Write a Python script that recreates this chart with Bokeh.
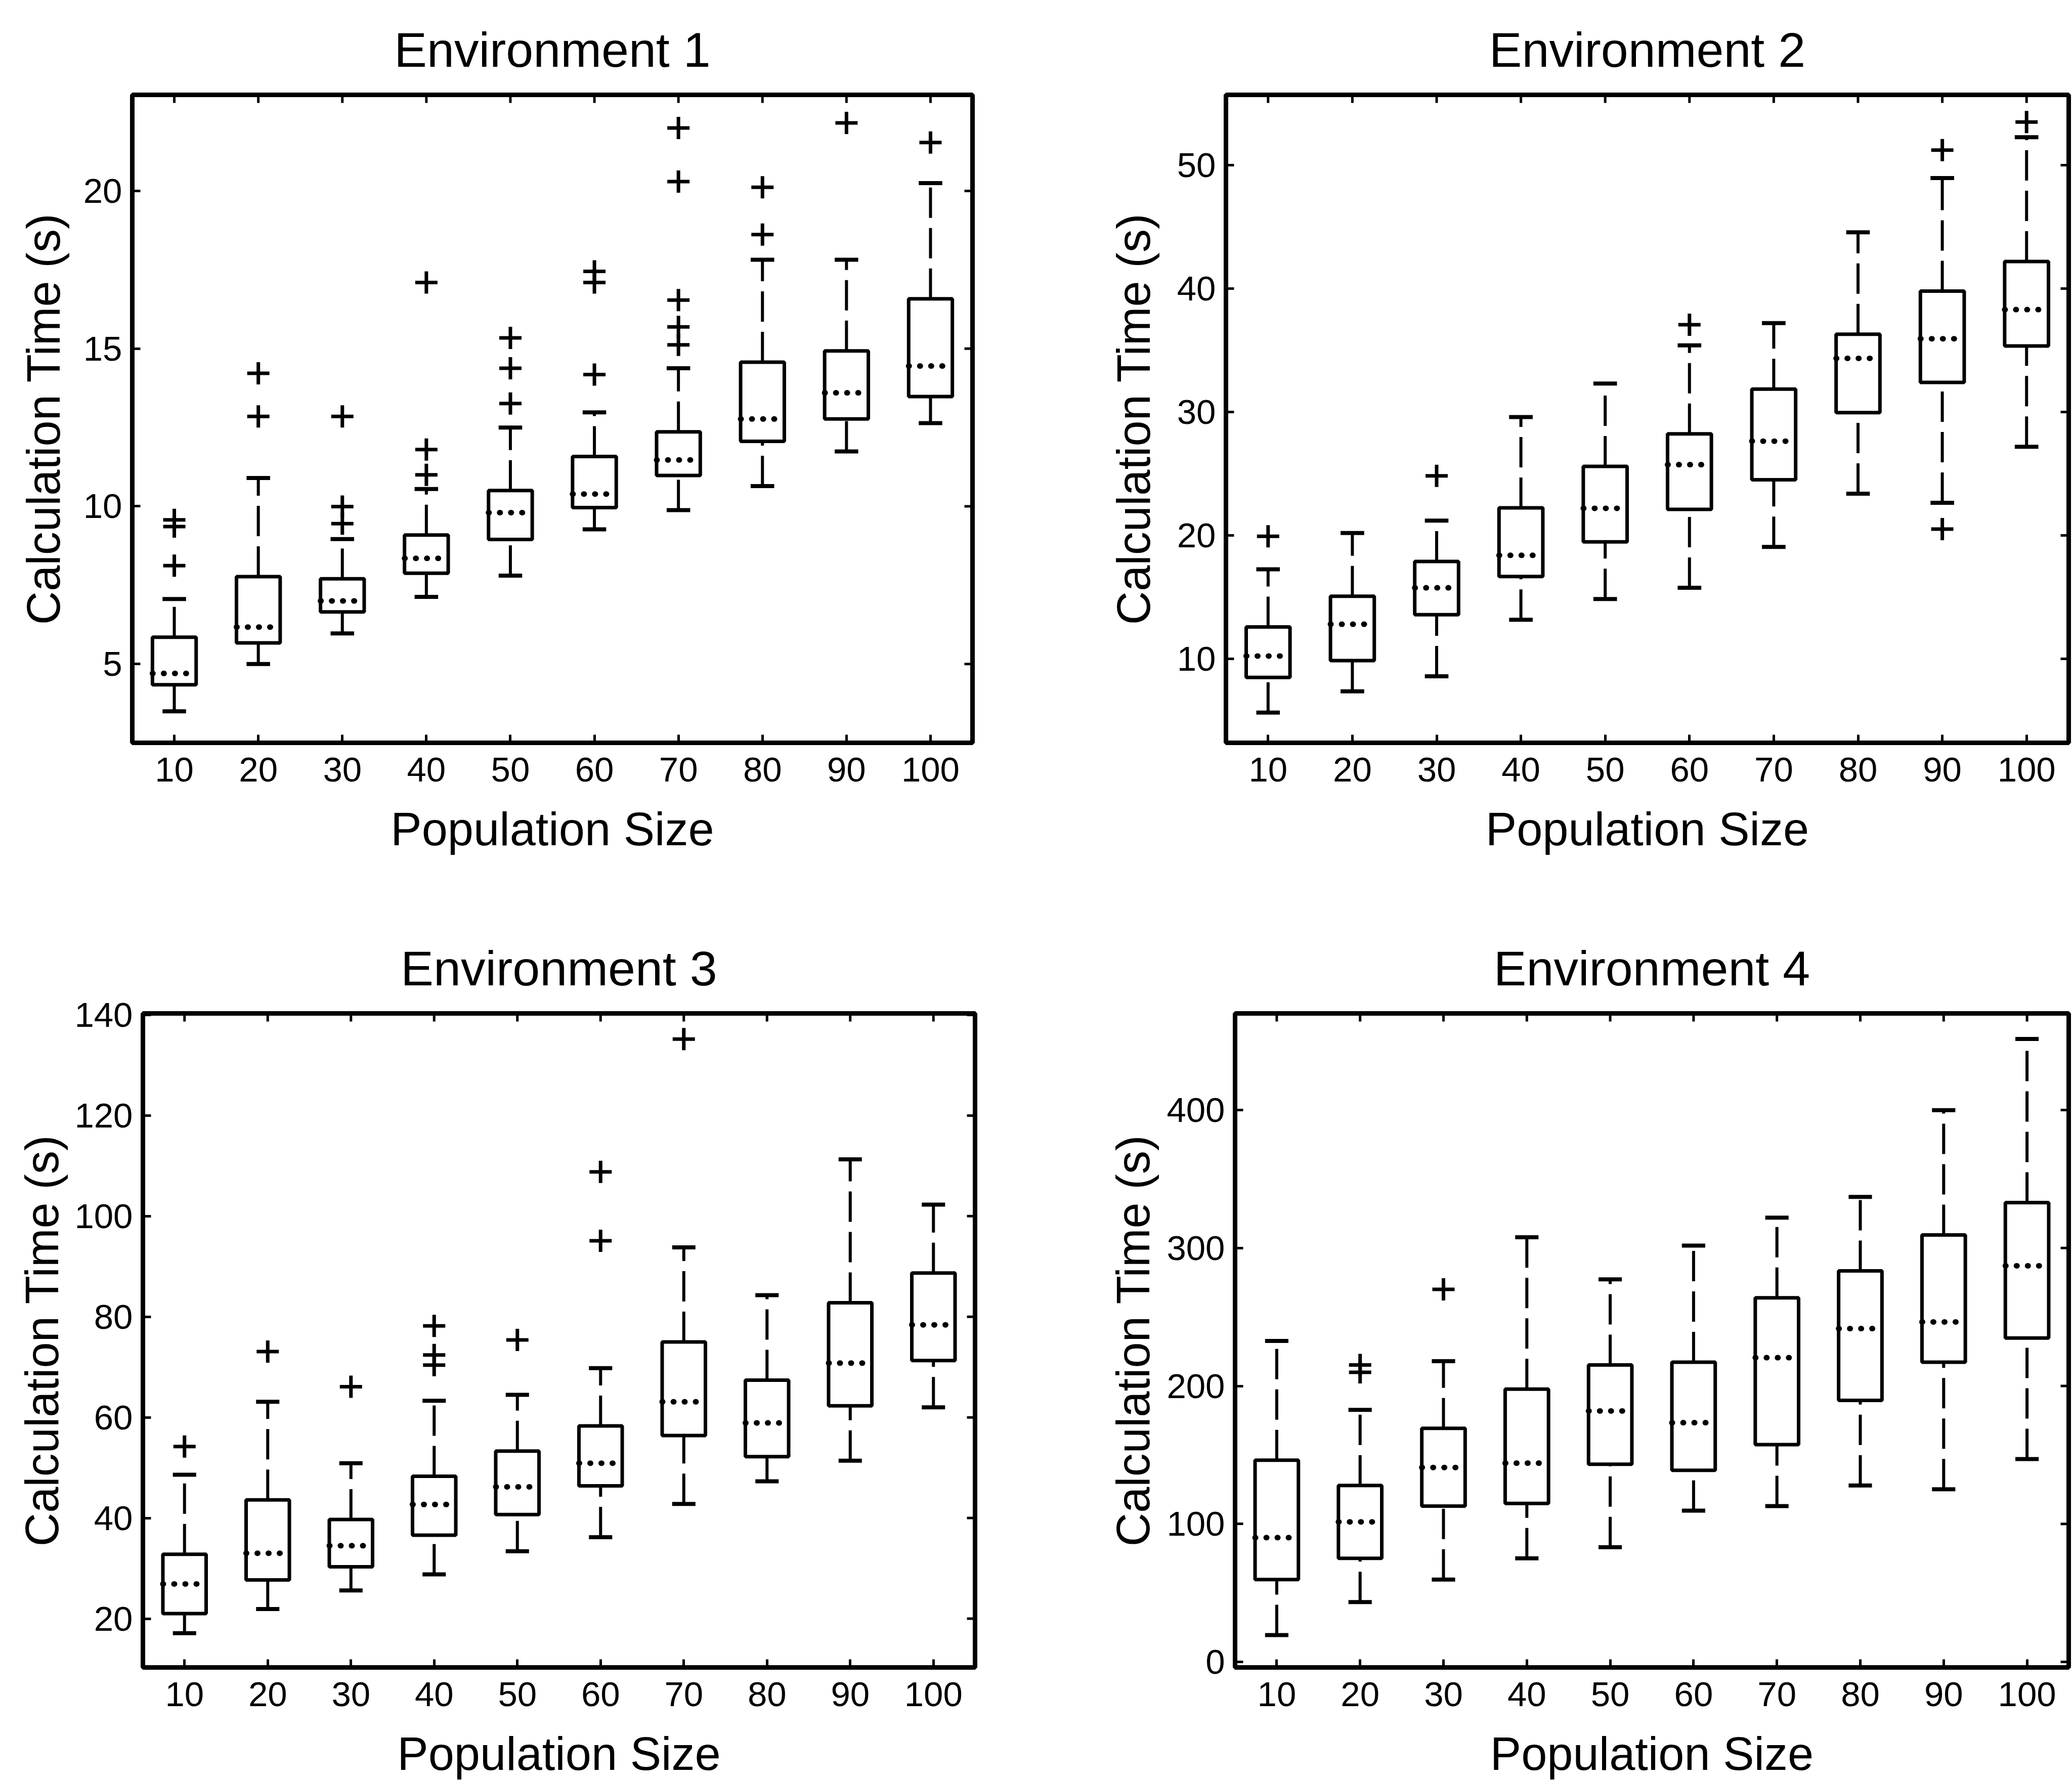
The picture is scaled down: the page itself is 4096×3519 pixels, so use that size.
import numpy as np
from bokeh.plotting import figure
from bokeh.models import FixedTicker, Range1d, ColumnDataSource
from bokeh.layouts import column, row
from bokeh.embed import file_html
from bokeh.resources import INLINE

positions = [10, 20, 30, 40, 50, 60, 70, 80, 90, 100]

# ---- Environment 1 ----
env1_lower = [3.5, 5.0, 5.97, 7.13, 7.8, 9.27, 9.88, 10.64, 11.74, 12.64]
env1_q1 = [4.34, 5.67, 6.65, 7.88, 8.95, 9.96, 10.98, 12.06, 12.77, 13.48]
env1_median = [4.7, 6.17, 7.0, 8.35, 9.8, 10.39, 11.47, 12.77, 13.6, 14.45]
env1_q3 = [5.85, 7.77, 7.7, 9.09, 10.5, 11.58, 12.36, 14.57, 14.93, 16.58]
env1_upper = [7.06, 10.9, 8.96, 10.55, 12.5, 12.98, 14.38, 17.82, 17.82, 20.25]
env1_outliers = [[8.12, 9.36, 9.57], [12.85, 14.22], [9.45, 9.99, 12.85],
                 [11.0, 11.8, 17.1], [13.26, 14.38, 15.34], [14.18, 17.1, 17.45],
                 [15.12, 15.69, 16.54, 20.3, 22.0], [18.62, 20.12], [22.16], [21.54]]

# ---- Environment 2 ----
env2_lower = [5.65, 7.37, 8.59, 13.17, 14.85, 15.76, 19.07, 23.38, 22.65, 27.19]
env2_q1 = [8.5, 9.86, 13.58, 16.67, 19.48, 22.11, 24.51, 29.95, 32.4, 35.35]
env2_median = [10.23, 12.81, 15.76, 18.39, 22.2, 25.74, 27.64, 34.35, 35.94, 38.3]
env2_q3 = [12.59, 15.08, 17.89, 22.24, 25.6, 28.23, 31.86, 36.3, 39.8, 42.2]
env2_upper = [17.26, 20.2, 21.2, 29.59, 32.31, 35.4, 37.21, 44.56, 48.96, 52.27]
env2_outliers = [[19.93], [], [24.83], [], [], [37.07], [], [], [20.52, 51.22], [53.5]]

# ---- Environment 3 ----
env3_lower = [17.1, 21.9, 25.6, 28.8, 33.4, 36.2, 42.8, 47.3, 51.4, 62.0]
env3_q1 = [21.0, 27.7, 30.3, 36.6, 40.7, 46.4, 56.4, 52.2, 62.3, 71.3]
env3_median = [26.9, 33.0, 34.5, 42.7, 46.2, 50.9, 63.1, 58.9, 70.8, 78.4]
env3_q3 = [32.8, 43.6, 39.7, 48.3, 53.3, 58.3, 75.0, 67.4, 82.8, 88.7]
env3_upper = [48.6, 63.1, 50.9, 63.3, 64.5, 69.8, 93.8, 84.3, 111.3, 102.3]
env3_outliers = [[54.2], [73.1], [66.1], [70.4, 72.4, 78.2], [75.4], [95.1, 108.8],
                 [135.2], [], [], []]

# ---- Environment 4 ----
env4_lower = [19.5, 43.4, 59.7, 75.1, 83.2, 109.6, 112.9, 127.9, 125.1, 147.0]
env4_q1 = [59.7, 75.1, 112.9, 114.9, 143.3, 138.9, 157.5, 189.6, 217.2, 234.7]
env4_median = [90.1, 101.5, 140.9, 144.1, 181.9, 173.4, 220.5, 241.6, 246.4, 287.1]
env4_q3 = [146.2, 127.9, 169.3, 197.7, 215.2, 217.2, 263.9, 283.4, 309.4, 332.9]
env4_upper = [232.6, 182.7, 218.0, 307.8, 277.3, 301.7, 322.0, 337.0, 399.9, 451.5]
env4_outliers = [[], [209.9, 215.2], [270.0], [], [], [], [], [], [], []]

titles = ["Environment 1", "Environment 2", "Environment 3", "Environment 4"]
x_label = "Population Size"
y_label = "Calculation Time (s)"
y_ticks = [[5, 10, 15, 20], [10, 20, 30, 40, 50], [20, 40, 60, 80, 100, 120, 140],
           [0, 100, 200, 300, 400]]
y_ranges = [(2.5, 23.05), (3.2, 55.7), (10.3, 140.3), (-4, 470)]
x_range = (5, 105)

FONT = "Liberation Sans"
BOX_W = 5.2
CAP_W = 2.8


def style_axis(ax, ticks):
    ax.ticker = FixedTicker(ticks=ticks)
    ax.axis_line_color = None
    ax.major_tick_in = 16
    ax.major_tick_out = 0
    ax.minor_tick_in = 0
    ax.minor_tick_out = 0
    ax.major_tick_line_width = 5
    ax.major_tick_line_color = "black"
    ax.major_label_text_font = FONT
    ax.major_label_text_font_size = "69px"
    ax.major_label_text_color = "black"
    ax.axis_label_text_font = FONT
    ax.axis_label_text_font_size = "92px"
    ax.axis_label_text_font_style = "normal"
    ax.axis_label_text_color = "black"


def make_panel(i, lower, q1, med, q3, upper, outliers, fw, fh, bl, br, bt, bb,
               ylab_standoff):
    yr = y_ranges[i]
    p = figure(frame_width=fw, frame_height=fh,
               x_range=Range1d(*x_range), y_range=Range1d(*yr),
               output_backend="svg", toolbar_location=None,
               min_border_left=bl, min_border_right=br,
               min_border_top=bt, min_border_bottom=bb,
               background_fill_color="white", border_fill_color="white")
    p.title.text = titles[i]
    p.title.align = "center"
    p.title.text_font = FONT
    p.title.text_font_size = "97px"
    p.title.text_font_style = "normal"
    p.title.text_color = "black"
    p.title.standoff = 70
    p.xgrid.visible = False
    p.ygrid.visible = False
    p.outline_line_color = "black"
    p.outline_line_width = 9

    style_axis(p.xaxis[0], positions)
    style_axis(p.yaxis[0], y_ticks[i])
    p.xaxis[0].axis_label = x_label
    p.yaxis[0].axis_label = y_label
    p.xaxis[0].major_label_standoff = 29
    p.xaxis[0].axis_label_standoff = 40
    p.yaxis[0].major_label_standoff = 20
    p.yaxis[0].axis_label_standoff = ylab_standoff

    # inward tick marks on the top and right edges of the box (half clipped)
    p.scatter(x=positions, y=[yr[1]] * len(positions), marker="dash",
              angle=np.pi / 2, size=32, line_color="black", line_width=5)
    p.scatter(x=[x_range[1]] * len(y_ticks[i]), y=y_ticks[i], marker="dash",
              size=32, line_color="black", line_width=5)

    x = np.array(positions, dtype=float)
    src = ColumnDataSource(dict(
        x=x, lower=lower, q1=q1, med=med, q3=q3, upper=upper,
        bl=x - BOX_W / 2, br=x + BOX_W / 2,
        cl=x - CAP_W / 2, cr=x + CAP_W / 2))

    # whiskers (dashed)
    p.segment(x0="x", y0="q3", x1="x", y1="upper", source=src,
              line_color="black", line_width=6, line_dash="60 20")
    p.segment(x0="x", y0="lower", x1="x", y1="q1", source=src,
              line_color="black", line_width=6, line_dash="60 20")
    # boxes
    p.quad(left="bl", right="br", bottom="q1", top="q3", source=src,
           fill_color="white", line_color="black", line_width=7)
    # medians (dotted)
    p.segment(x0="bl", y0="med", x1="br", y1="med", source=src,
              line_color="black", line_width=11, line_dash="1 21",
              line_cap="round")
    # caps
    p.segment(x0="cl", y0="upper", x1="cr", y1="upper", source=src,
              line_color="black", line_width=8)
    p.segment(x0="cl", y0="lower", x1="cr", y1="lower", source=src,
              line_color="black", line_width=8)
    # outliers
    ox, oy = [], []
    for pos, vals in zip(positions, outliers):
        for v in vals:
            ox.append(pos)
            oy.append(v)
    p.scatter(x=ox, y=oy, marker="cross", size=44, line_color="black",
              line_width=7)
    return p


f1 = make_panel(0, env1_lower, env1_q1, env1_median, env1_q3, env1_upper,
                env1_outliers, 1661, 1281, 261, 238, 187, 292, 25)
f2 = make_panel(1, env2_lower, env2_q1, env2_median, env2_q3, env2_upper,
                env2_outliers, 1666, 1281, 263, 7, 187, 292, 32)
f3 = make_panel(2, env3_lower, env3_q1, env3_median, env3_q3, env3_upper,
                env3_outliers, 1645, 1293, 282, 233, 243, 223, 10)
f4 = make_panel(3, env4_lower, env4_q1, env4_median, env4_q3, env4_upper,
                env4_outliers, 1648, 1293, 281, 7, 243, 223, 12)

layout = column(row(f1, f2, spacing=0), row(f3, f4, spacing=0), spacing=0)

open("out.html", "w").write(file_html(layout, INLINE))
